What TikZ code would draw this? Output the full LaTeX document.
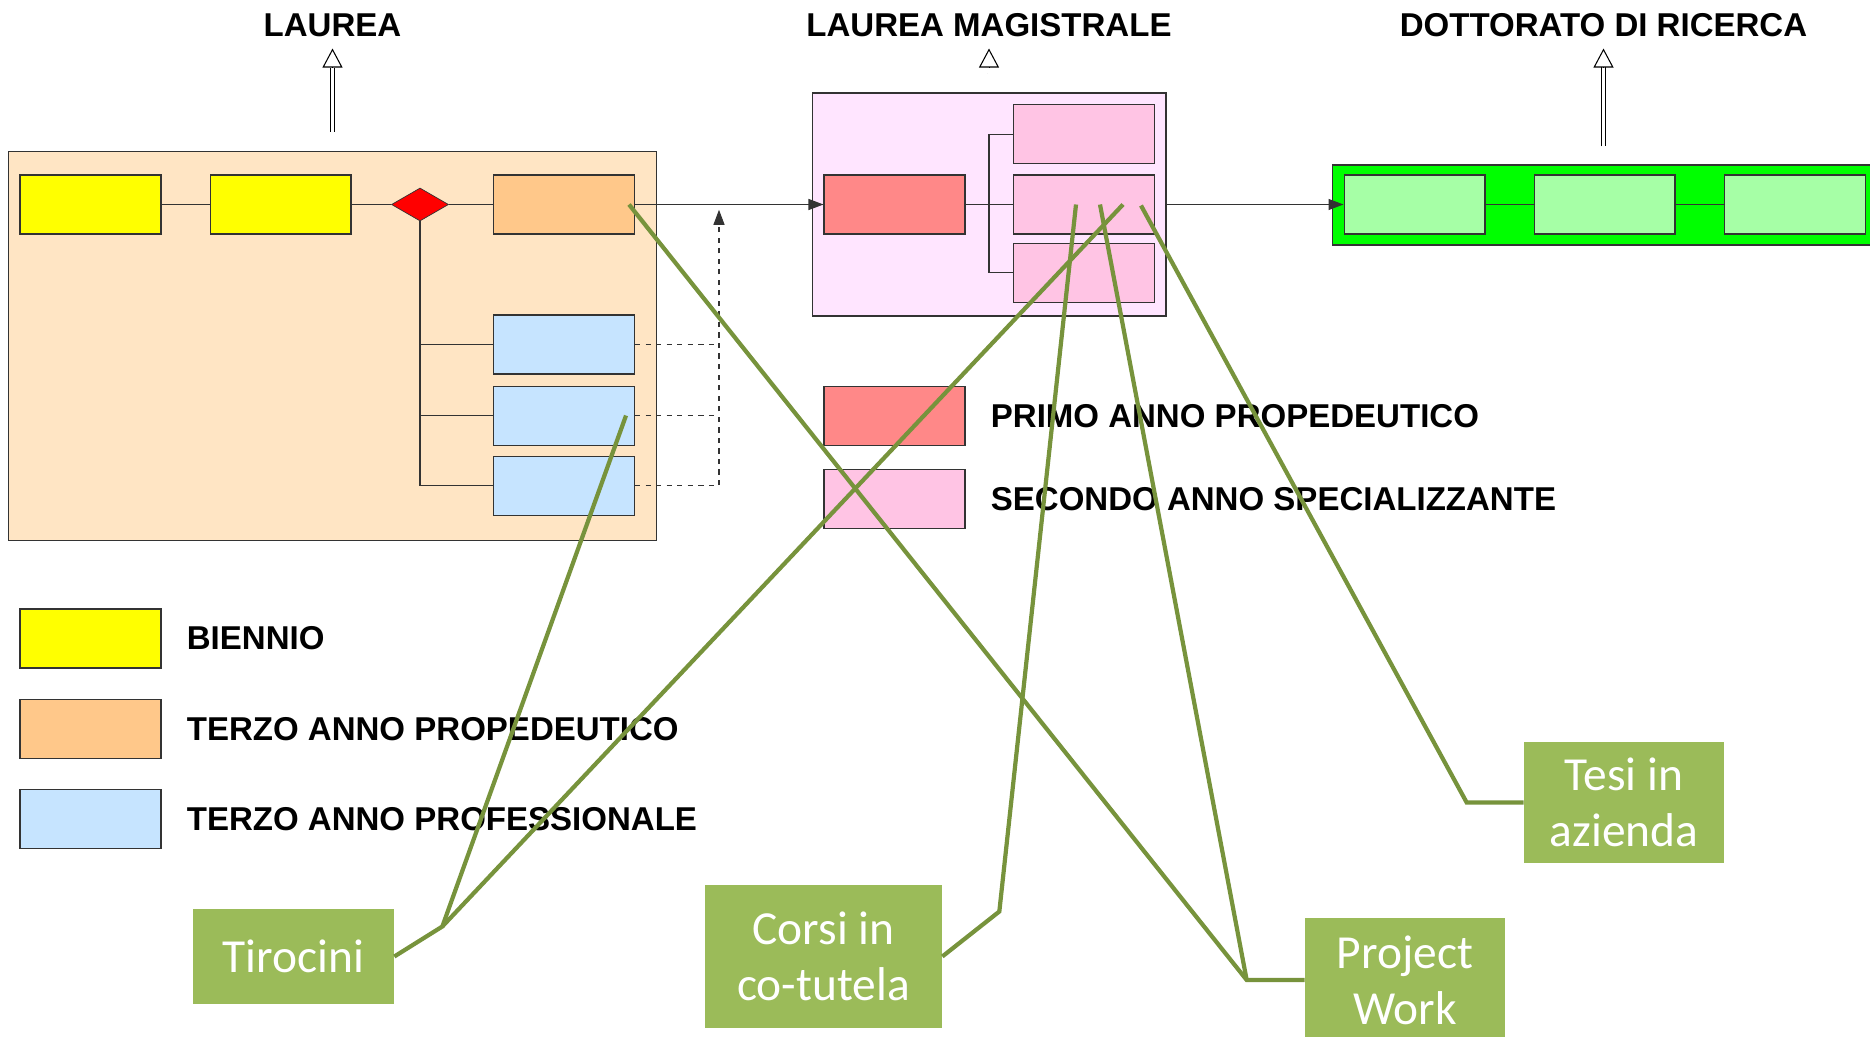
\documentclass[tikz,border=0pt]{standalone}
\usepackage{fontspec}
\setmainfont{Liberation Sans}
\newfontfamily\calloutfont{Carlito}
\usetikzlibrary{shapes.geometric, arrows.meta, positioning, calc}
\definecolor{laureaPeach}{RGB}{255,229,196}
\definecolor{biennioYellow}{RGB}{255,255,0}
\definecolor{propOrange}{RGB}{255,200,138}
\definecolor{profBlue}{RGB}{198,228,255}
\definecolor{magLilac}{RGB}{255,229,255}
\definecolor{primoRed}{RGB}{255,136,136}
\definecolor{secondoPink}{RGB}{255,196,228}
\definecolor{dottGreen}{RGB}{0,255,0}
\definecolor{dottLight}{RGB}{166,255,166}
\definecolor{calloutGreen}{RGB}{155,187,89}
\definecolor{pointerGreen}{RGB}{119,147,60}

\begin{document}
\begin{tikzpicture}[
    x=0.02cm, y=-0.02cm,
    node distance=0.96cm,
    area/.style={rectangle, draw=black!80, line width=0.6pt, inner sep=0pt},
    yearbox/.style={rectangle, draw=black!80, line width=0.6pt, minimum width=2.82cm, minimum height=1.18cm, inner sep=0pt},
    heading/.style={font=\fontsize{18.8}{22}\selectfont\bfseries},
    legendtext/.style={heading, inner sep=0pt, anchor=west},
    link/.style={draw=black!80, line width=0.6pt},
    arrow/.style={-{Triangle[length=0.3cm, width=0.22cm]}},
    uparrow/.style={double, double distance=1.8pt, line width=0.5pt},
    uphead/.style={-{Triangle[open, length=0.38cm, width=0.4cm, line width=0.6pt]}, shorten >=0.1cm},
    callbox/.style={fill=calloutGreen, text=white, font=\calloutfont\fontsize{27}{32}\selectfont, align=center, inner sep=0pt},
    pointer/.style={draw=pointerGreen, line width=2.4pt}
]
\useasboundingbox (0,0) rectangle (1870,1037);

% Laurea
\node[area, fill=laureaPeach, minimum width=12.98cm, minimum height=7.8cm] (lau) at (332.5,346) {};
\node[yearbox, fill=biennioYellow] (y1) at (90.5,204.5) {};
\node[yearbox, fill=biennioYellow, right=of y1] (y2) {};
\node[diamond, draw=black!80, fill=red, aspect=1.73, minimum width=1.14cm, minimum height=0.66cm, inner sep=0pt] (dia) at (420,204.5) {};
\node[yearbox, fill=propOrange] (prop) at (564,204.5) {};
\node[yearbox, fill=profBlue] (pro1) at (564,344.5) {};
\node[yearbox, fill=profBlue, below=0.22cm of pro1] (pro2) {};
\node[yearbox, fill=profBlue, below=0.2cm of pro2] (pro3) {};

% Laurea magistrale
\node[area, fill=magLilac, minimum width=7.08cm, minimum height=4.46cm] (lm) at (989,204.5) {};
\node[yearbox, fill=primoRed] (m1) at (894.5,204.5) {};
\node[yearbox, fill=secondoPink] (m3) at (1084,204.5) {};
\node[yearbox, fill=secondoPink, above=0.2cm of m3] (m2) {};
\node[yearbox, fill=secondoPink, below=0.16cm of m3] (m4) {};

% Dottorato
\node[area, fill=dottGreen, minimum width=10.86cm, minimum height=1.6cm] (dr) at (1603.5,205) {};
\node[yearbox, fill=dottLight] (d1) at (1414.5,204.5) {};
\node[yearbox, fill=dottLight, right=of d1] (d2) {};
\node[yearbox, fill=dottLight, right=of d2] (d3) {};

% Titles
\node[heading, anchor=base] (tlau) at (332.5,37) {LAUREA};
\node[heading, anchor=base] (tlm) at (989,37) {LAUREA MAGISTRALE};
\node[heading, anchor=base] (tdr) at (1603.5,37) {DOTTORATO DI RICERCA};
\draw[uparrow] (lau.north) ++(0,-19) -- ++(0,-64);
\draw[uparrow] (lm.north) ++(0,-19) -- ++(0,-9);
\draw[uparrow] (dr.north) ++(0,-18) -- ++(0,-79);
\draw[uphead] ($(tlau.south)+(0,24)$) -- (tlau.south);
\draw[uphead] ($(tlm.south)+(0,24)$) -- (tlm.south);
\draw[uphead] ($(tdr.south)+(0,24)$) -- (tdr.south);

% Connectors
\draw[link] (y1) -- (y2);
\draw[link] (y2) -- (dia);
\draw[link] (dia) -- (prop);
\draw[link] (dia.south) |- (pro1.west);
\draw[link] (dia.south) |- (pro2.west);
\draw[link] (dia.south) |- (pro3.west);
\coordinate (merge) at (719,204.5);
\draw[link, dashed] (pro1.east) -- (pro1.east -| merge);
\draw[link, dashed] (pro2.east) -- (pro2.east -| merge);
\draw[link, dashed, arrow, shorten >=3pt] (pro3.east) -| (merge);
\draw[link, arrow] (prop) -- (m1);
\draw[link] (m1) -- (m3);
\coordinate (fork) at (989,204.5);
\draw[link] (m2.west) -| (fork) |- (m4.west);
\draw[link, arrow] (lm) -- (d1);
\draw[link] (d1) -- (d2);
\draw[link] (d2) -- (d3);

% Legend
\node[yearbox, fill=biennioYellow] (lg1) at (90.5,638.5) {};
\node[legendtext, right=0.5cm of lg1] {BIENNIO};
\node[yearbox, fill=propOrange] (lg2) at (90.5,729) {};
\node[legendtext, right=0.5cm of lg2] {TERZO ANNO PROPEDEUTICO};
\node[yearbox, fill=profBlue] (lg3) at (90.5,819) {};
\node[legendtext, right=0.5cm of lg3] {TERZO ANNO PROFESSIONALE};
\node[yearbox, fill=primoRed] (lg4) at (894.5,416) {};
\node[legendtext, right=0.5cm of lg4] {PRIMO ANNO PROPEDEUTICO};
\node[yearbox, fill=secondoPink] (lg5) at (894.5,499) {};
\node[legendtext, right=0.5cm of lg5] {SECONDO ANNO SPECIALIZZANTE};

% Callouts
\node[callbox, minimum width=4.02cm, minimum height=1.9cm] (tir) at (293.5,956.5) {Tirocini};
\node[callbox, minimum width=4.74cm, minimum height=2.86cm] (cot) at (823.5,956.5) {Corsi in\\co-tutela};
\node[callbox, minimum width=4cm, minimum height=2.48cm] (pw) at (1405,980) {Project\\Work};
\node[callbox, minimum width=4cm, minimum height=2.42cm] (tesi) at (1624,802.5) {Tesi in\\azienda};

\draw[pointer] (tir.east) -- ++(48,-30) coordinate (tirk) -- ($(pro2.east)+(-9,0)$);
\draw[pointer] (tirk) -- ($(m3.center)+(39,0)$);
\draw[pointer] (cot.east) -- ++(57,-45) -- ($(m3.center)+(-8,0)$);
\draw[pointer] (pw.west) -- ++(-58,0) coordinate (pwk) -- ($(prop.east)+(-6,0)$);
\draw[pointer] (pwk) -- ($(m3.center)+(16,0)$);
\draw[pointer] (tesi.west) -- ++(-57,0) -- ($(m3.center)+(57,1)$);

\end{tikzpicture}
\end{document}
